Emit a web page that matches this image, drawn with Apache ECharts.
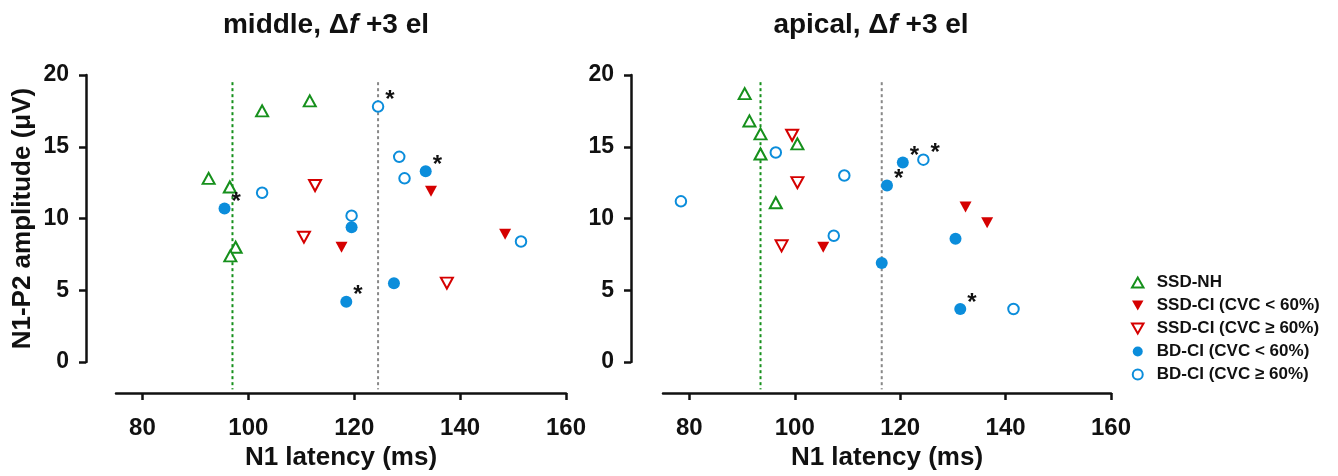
<!DOCTYPE html>
<html>
<head>
<meta charset="utf-8">
<script src="https://cdn.jsdelivr.net/npm/echarts@6/dist/echarts.min.js"></script>
<style>
  html, body { margin: 0; padding: 0; background: #fff; }
  #chart { width: 1338px; height: 476px; }
</style>
</head>
<body>
<div id="chart"></div>
<script>
// N1 latency (ms) vs N1-P2 amplitude (µV), one panel per electrode region.
// Each group: [latency, amplitude] pairs; *Stars lists indices marked with an asterisk.
const middleSsdNh = [[92.5, 12.8], [96.5, 12.2], [102.6, 17.5], [111.6, 18.2], [97.6, 8.0], [96.6, 7.4]];
const middleSsdCiLow = [[117.6, 8.0], [134.5, 11.9], [148.5, 8.9]];
const middleSsdCiHigh = [[112.6, 12.3], [110.5, 8.7], [137.5, 5.5]];
const middleBdCiLow = [[95.5, 10.7], [119.5, 9.4], [133.5, 13.3], [127.5, 5.5], [118.5, 4.2]];
const middleBdCiLowStars = [0, 2, 4];
const middleBdCiHigh = [[124.5, 17.8], [102.6, 11.8], [128.5, 14.3], [129.5, 12.8], [119.5, 10.2], [151.5, 8.4]];
const middleBdCiHighStars = [0];
const middleRefNh = 97.0;
const middleRefCi = 124.5;

const apicalSsdNh = [[90.5, 18.7], [91.4, 16.8], [93.5, 15.9], [93.5, 14.5], [100.5, 15.2], [96.4, 11.1]];
const apicalSsdCiLow = [[105.4, 8.0], [132.4, 10.8], [136.5, 9.7]];
const apicalSsdCiHigh = [[99.5, 15.8], [100.5, 12.5], [97.5, 8.1]];
const apicalBdCiLow = [[120.5, 13.9], [117.5, 12.3], [130.5, 8.6], [116.5, 6.9], [131.4, 3.7]];
const apicalBdCiLowStars = [0, 1, 4];
const apicalBdCiHigh = [[78.4, 11.2], [96.4, 14.6], [109.4, 13.0], [124.4, 14.1], [107.4, 8.8], [141.5, 3.7]];
const apicalBdCiHighStars = [3];
const apicalRefNh = 93.5;
const apicalRefCi = 116.5;

const refSpan = [19.5, -1.9];
const xTicks = [80, 100, 120, 140, 160];
const groupNames = ['SSD-NH', 'SSD-CI (CVC < 60%)', 'SSD-CI (CVC \u2265 60%)', 'BD-CI (CVC < 60%)', 'BD-CI (CVC \u2265 60%)'];

const GREEN = '#16901c';
const RED = '#d50000';
const BLUE = '#0b8ddb';
const FONT = '"Liberation Sans", Arial, sans-serif';
const DOWN = 'path://M0,0 L10,0 L5,8.7 Z';
const UP = 'path://M5,0 L10,8.7 L0,8.7 Z';

function withStars(points, stars) {
  return points.map((p, i) => stars && stars.indexOf(i) >= 0
    ? { value: p, label: { show: true } }
    : { value: p });
}

const starLabel = {
  show: false, formatter: '*', position: 'right', distance: 1, offset: [0, -6],
  color: '#111', fontSize: 24, fontWeight: 'bold', fontFamily: FONT
};

function groupSeries(idx, sets) {
  const styles = [
    { symbol: UP, size: [12, 11], itemStyle: { color: '#fff', borderColor: GREEN, borderWidth: 2 } },
    { symbol: DOWN, size: [12, 11], itemStyle: { color: RED, borderColor: RED, borderWidth: 0 } },
    { symbol: DOWN, size: [12, 11], itemStyle: { color: '#fff', borderColor: RED, borderWidth: 2 } },
    { symbol: 'circle', size: 12, itemStyle: { color: BLUE, borderColor: BLUE, borderWidth: 0 } },
    { symbol: 'circle', size: 10.5, itemStyle: { color: '#fff', borderColor: BLUE, borderWidth: 2 } }
  ];
  return sets.map((s, g) => ({
    type: 'scatter',
    name: groupNames[g],
    xAxisIndex: idx, yAxisIndex: idx,
    symbol: styles[g].symbol,
    symbolSize: styles[g].size,
    itemStyle: Object.assign({ opacity: 1 }, styles[g].itemStyle),
    label: starLabel,
    emphasis: { disabled: true },
    z: 5,
    data: withStars(s.points, s.stars)
  }));
}

function refLine(idx, x, color) {
  return {
    type: 'line', xAxisIndex: idx, yAxisIndex: idx,
    data: [[x, refSpan[0]], [x, refSpan[1]]],
    symbol: 'none', clip: false, silent: true, z: 1,
    lineStyle: { color: color, width: 2, type: [3, 3] }
  };
}

function xAxisFor(idx) {
  return {
    type: 'value', gridIndex: idx, min: 75, max: 160, offset: 31,
    name: 'N1 latency (ms)', nameLocation: 'middle', nameGap: 50,
    nameTextStyle: { color: '#111', fontSize: 26, fontWeight: 'bold', fontFamily: FONT },
    axisLine: { show: true, onZero: false, lineStyle: { color: '#111', width: 2.5 } },
    axisTick: { show: true, length: 7, lineStyle: { color: '#111', width: 2.5 }, customValues: xTicks },
    axisLabel: { color: '#111', fontSize: 24, fontWeight: 'bold', fontFamily: FONT, margin: 23, customValues: xTicks },
    splitLine: { show: false }
  };
}

function yAxisFor(idx, offset, withName, margin) {
  return {
    type: 'value', gridIndex: idx, min: 0, max: 20, interval: 5, offset: offset,
    name: withName ? 'N1-P2 amplitude (\u03bcV)' : '', nameLocation: 'middle', nameGap: 50,
    nameTextStyle: { color: '#111', fontSize: 26, fontWeight: 'bold', fontFamily: FONT },
    axisLine: { show: true, onZero: false, lineStyle: { color: '#111', width: 2.5 } },
    axisTick: { show: true, length: 7, lineStyle: { color: '#111', width: 2.5 } },
    axisLabel: { color: '#111', fontSize: 23, fontWeight: 'bold', fontFamily: FONT, margin: margin },
    splitLine: { show: false }
  };
}

function titleText(x, word) {
  return {
    type: 'text', x: x, y: 25,
    style: {
      text: '{b|' + word + ', \u0394}{i|f}{b| +3 el}',
      align: 'center', verticalAlign: 'middle',
      rich: {
        b: { fontSize: 28, fontWeight: 'bold', fontFamily: FONT, fill: '#111' },
        i: { fontSize: 28, fontWeight: 'bold', fontStyle: 'italic', fontFamily: FONT, fill: '#111' }
      }
    }
  };
}

const chart = echarts.init(document.getElementById('chart'), null, { renderer: 'canvas' });
chart.setOption({
  animation: false,
  backgroundColor: '#fff',
  grid: [
    { left: 116, top: 75, width: 450, height: 289 },
    { left: 663, top: 75, width: 448, height: 289 }
  ],
  xAxis: [xAxisFor(0), xAxisFor(1)],
  yAxis: [yAxisFor(0, 30, true, 17), yAxisFor(1, 32, false, 17)],
  graphic: [titleText(326, 'middle'), titleText(871, 'apical')],
  legend: {
    data: groupNames,
    orient: 'vertical', left: 1126, top: 269,
    itemWidth: 28, itemHeight: 10, itemGap: 6,
    textStyle: { color: '#111', fontSize: 17, fontWeight: 'bold', fontFamily: FONT }
  },
  series: [
    refLine(0, middleRefNh, GREEN),
    refLine(0, middleRefCi, '#888'),
    refLine(1, apicalRefNh, GREEN),
    refLine(1, apicalRefCi, '#888'),
    ...groupSeries(0, [
      { points: middleSsdNh }, { points: middleSsdCiLow }, { points: middleSsdCiHigh },
      { points: middleBdCiLow, stars: middleBdCiLowStars }, { points: middleBdCiHigh, stars: middleBdCiHighStars }
    ]),
    ...groupSeries(1, [
      { points: apicalSsdNh }, { points: apicalSsdCiLow }, { points: apicalSsdCiHigh },
      { points: apicalBdCiLow, stars: apicalBdCiLowStars }, { points: apicalBdCiHigh, stars: apicalBdCiHighStars }
    ])
  ]
});
</script>
</body>
</html>
